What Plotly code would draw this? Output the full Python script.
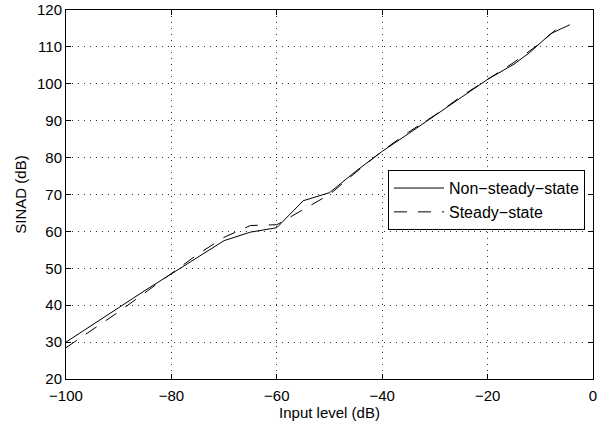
import plotly.graph_objects as go

# Data
input_nss = [-100, -95, -90, -85, -80, -75, -70, -65, -60, -55, -50, -45, -40,
             -35, -30, -25, -20, -15, -12, -8, -4.4]
sinad_nss = [30.0, 34.7, 39.4, 44.0, 48.5, 53.0, 57.5, 59.8, 61.0, 68.3, 70.5,
             76.3, 81.7, 86.5, 91.3, 96.3, 101.2, 105.3, 108.5, 113.6, 116.0]

input_ss = [-100, -95, -90, -85, -80, -75, -70, -65, -60, -55, -50, -45, -40,
            -35, -30, -25, -20, -15, -10, -6]
sinad_ss = [28.5, 33.3, 38.2, 43.4, 48.6, 53.8, 58.4, 61.6, 61.8, 66.0, 70.0,
            76.0, 81.8, 86.9, 91.5, 96.6, 101.3, 105.8, 111.0, 116.0]

x_ticks = [-100, -80, -60, -40, -20, 0]
y_ticks = [20, 30, 40, 50, 60, 70, 80, 90, 100, 110, 120]

FONT = "Liberation Sans, Arial, Helvetica, sans-serif"

fig = go.Figure()
fig.add_trace(go.Scatter(x=input_nss, y=sinad_nss, mode="lines",
                         name="Non\u2212steady\u2212state",
                         line=dict(color="black", width=1)))
fig.add_trace(go.Scatter(x=input_ss, y=sinad_ss, mode="lines",
                         name="Steady\u2212state",
                         line=dict(color="black", width=1, dash="13px,11px")))

axis_common = dict(
    showline=True, linecolor="black", linewidth=1, mirror="allticks",
    ticks="inside", ticklen=5, tickcolor="black", tickwidth=1,
    showgrid=True, gridcolor="#333333", gridwidth=1, griddash="1px,5px",
    zeroline=False, automargin=False,
    tickfont=dict(family=FONT, size=15, color="black"),
)

fig.update_xaxes(range=[-100, 0], tickvals=x_ticks, ticklabelstandoff=3,
                 **axis_common,
                 title=dict(text="Input level (dB)", standoff=0,
                            font=dict(family=FONT, size=15, color="black")))
fig.update_yaxes(range=[20, 120], tickvals=y_ticks, **axis_common,
                 title=dict(text="SINAD (dB)", standoff=6,
                            font=dict(family=FONT, size=15, color="black")))

fig.update_layout(
    width=603, height=426,
    margin=dict(l=66, r=10, t=10, b=47, autoexpand=False),
    paper_bgcolor="white", plot_bgcolor="white",
    font=dict(family=FONT, size=15, color="black"),
    showlegend=True,
    legend=dict(x=0.611, y=0.566, xanchor="left", yanchor="top",
                bgcolor="white", bordercolor="black", borderwidth=1,
                font=dict(family=FONT, size=16, color="black"),
                tracegroupgap=0, itemwidth=50),
)

fig.write_html("out.html",
               config={"displayModeBar": False, "staticPlot": True},
               post_script="document.body.style.margin='0px';"
                           "document.body.style.overflow='hidden';")
